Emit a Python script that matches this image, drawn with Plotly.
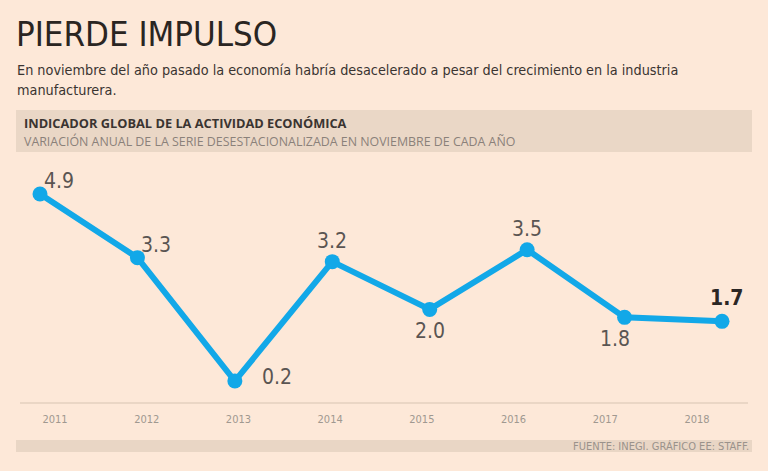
import plotly.graph_objects as go

years = [2011, 2012, 2013, 2014, 2015, 2016, 2017, 2018]
values = [4.9, 3.3, 0.2, 3.2, 2.0, 3.5, 1.8, 1.7]
tick_labels = [str(y) for y in years]
# pixel offsets of each value label from its point (dx, dy up)
label_shift = [(19, 13), (19, 13), (42, 4), (0, 21), (0, -22), (0, 21), (-10, -22), (4, 23)]

W, H = 768, 471
T, B = 160, 403  # plot area top / bottom in pixels

def px(x):
    return x / W

def py(y):
    return (B - y) / (B - T)

BG = "#fde8d8"
BLUE = "#12a8e8"
COND = "Liberation Sans Narrow, DejaVu Sans Condensed, Open Sans, sans-serif"

fig = go.Figure()
fig.add_trace(go.Scatter(
    x=years, y=values, mode="lines+markers",
    line=dict(color=BLUE, width=6),
    marker=dict(color=BLUE, size=15),
    cliponaxis=False, showlegend=False, hoverinfo="skip",
))
fig.add_trace(go.Scatter(x=years, y=values, xaxis="x2", mode="markers",
                         marker=dict(opacity=0), showlegend=False, hoverinfo="skip"))

value_annotations = []
for i, (yr, v) in enumerate(zip(years, values)):
    last = i == len(values) - 1
    txt = f"<b>{v:.1f}</b>" if last else f"{v:.1f}"
    value_annotations.append(dict(
        x=yr, y=v, xref="x", yref="y", text=txt, showarrow=False,
        xshift=label_shift[i][0], yshift=label_shift[i][1],
        xanchor="center", yanchor="middle",
        font=dict(family=COND, size=21, color="#2b2624" if last else "#5a5552"),
    ))

fig.update_layout(
    width=W, height=H, autosize=False,
    margin=dict(l=0, r=0, t=T, b=H - B, pad=0),
    paper_bgcolor=BG, plot_bgcolor=BG,
    xaxis=dict(range=[2011 - 40 / 97.43, 2018 + 46 / 97.43], showticklabels=False,
               showgrid=False, zeroline=False, showline=False, ticks=""),
    xaxis2=dict(range=[2011 - 55 / 91.71, 2018 + 71 / 91.71], overlaying="x", side="bottom",
                tickvals=years, ticktext=tick_labels, showgrid=False, zeroline=False,
                showline=False, ticks="", ticklabelstandoff=8,
                tickfont=dict(family=COND, size=11, color="#a09890")),
    yaxis=dict(range=[(389 - B) / 39.8, (389 - T) / 39.8], visible=False,
               showgrid=False, zeroline=False),
    shapes=[
        dict(type="rect", xref="paper", yref="paper", x0=px(16), x1=px(752),
             y0=py(152), y1=py(110), fillcolor="#ead7c6", line=dict(width=0), layer="below"),
        dict(type="rect", xref="paper", yref="paper", x0=px(16), x1=px(752),
             y0=py(452), y1=py(440), fillcolor="#e9d6c5", line=dict(width=0), layer="below"),
        dict(type="line", xref="paper", yref="paper", x0=px(20), x1=px(748),
             y0=0, y1=0, line=dict(color="#d8c4b2", width=1.2)),
    ],
    annotations=value_annotations + [
        dict(text="PIERDE IMPULSO", x=px(14), y=py(34), xref="paper", yref="paper",
             xanchor="left", yanchor="middle", showarrow=False,
             font=dict(family=COND, size=34.5, color="#2a2522")),
        dict(text="En noviembre del año pasado la economía habría desacelerado a pesar del crecimiento en la industria",
             x=px(15), y=py(70), xref="paper", yref="paper", xanchor="left", yanchor="middle",
             showarrow=False, font=dict(family=COND, size=14.3, color="#3a3431")),
        dict(text="manufacturera.", x=px(15), y=py(90), xref="paper", yref="paper",
             xanchor="left", yanchor="middle", showarrow=False,
             font=dict(family=COND, size=14.3, color="#3a3431")),
        dict(text="<b>INDICADOR GLOBAL DE LA ACTIVIDAD ECONÓMICA</b>", x=px(22), y=py(122.5),
             xref="paper", yref="paper", xanchor="left", yanchor="middle", showarrow=False,
             font=dict(family="Open Sans, sans-serif", size=12.8, color="#3a3431")),
        dict(text="VARIACIÓN ANUAL DE LA SERIE DESESTACIONALIZADA EN NOVIEMBRE DE CADA AÑO",
             x=px(22), y=py(141), xref="paper", yref="paper", xanchor="left", yanchor="middle",
             showarrow=False, font=dict(family="Open Sans, sans-serif", size=12.4, color="#8a817a")),
        dict(text="FUENTE: INEGI. GRÁFICO EE: STAFF.", x=px(751), y=py(446), xref="paper",
             yref="paper", xanchor="right", yanchor="middle", showarrow=False,
             font=dict(family=COND, size=11, color="#9a928b")),
    ],
)

fig.write_html("out.html")
